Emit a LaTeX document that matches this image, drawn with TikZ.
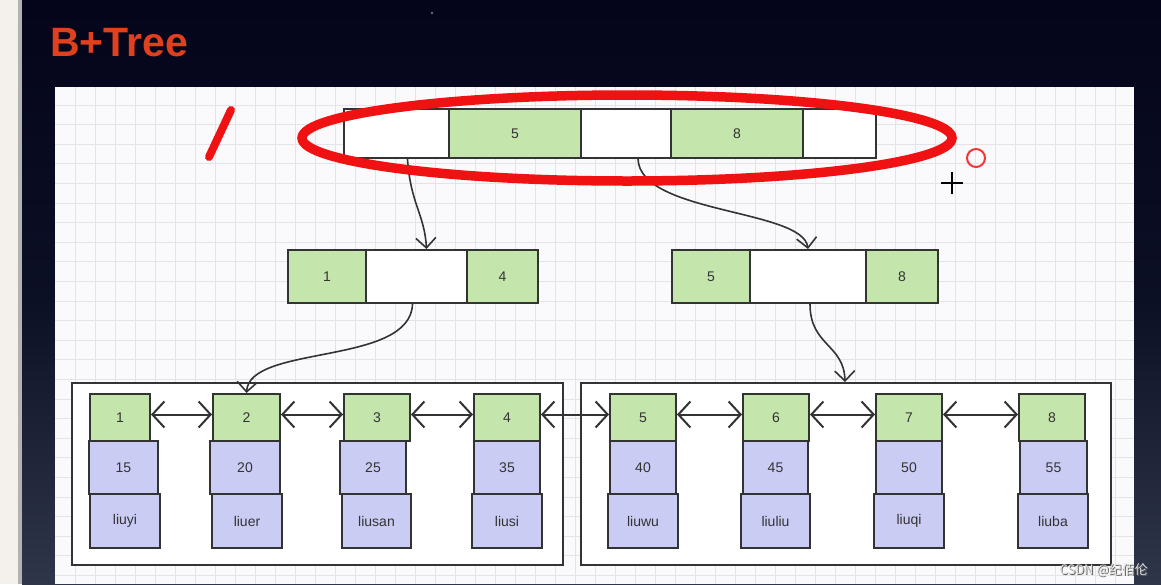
\documentclass[tikz,border=0pt]{standalone}
\usepackage{fontspec}
\setmainfont{Liberation Sans}
\newfontfamily\cjk{Noto Sans CJK SC}
\usetikzlibrary{arrows.meta}
\definecolor{keyg}{HTML}{C4E5AB}
\definecolor{valp}{HTML}{CACCF4}
\definecolor{edgec}{HTML}{333333}
\definecolor{titler}{HTML}{E0401E}
\definecolor{gridc}{HTML}{E4E4E8}
\definecolor{panelc}{HTML}{FAFAFC}
\definecolor{inkred}{HTML}{F01212}
\definecolor{slidetop}{HTML}{04041A}
\definecolor{slidemid}{HTML}{0C1025}
\definecolor{slidebot}{HTML}{30364A}
\definecolor{strip}{HTML}{F4F0EB}
\tikzset{
  cell/.style={draw=edgec, line width=2, inner sep=0pt, text=edgec, font=\fontsize{14}{16}\selectfont},
  gcell/.style={cell, fill=keyg},
  wcell/.style={cell, fill=white},
  pcell/.style={cell, fill=valp},
  leafbox/.style={draw=edgec, line width=2, fill=white, inner sep=0pt},
  tree/.style={draw=edgec, line width=1.6, -{Straight Barb[length=10pt,width=20pt]}},
  link/.style={draw=edgec, line width=2, {Straight Barb[length=12pt,width=26pt]}-{Straight Barb[length=12pt,width=26pt]}},
  ink/.style={draw=inkred, line cap=round},
}
% name, style, x1, x2, y1, y2, text
\newcommand\boxnode[7]{\node[#2, minimum width={#4-#3}, minimum height={#6-#5}] (#1) at ({(#3+#4)/2},{(#5+#6)/2}) {#7};}
% id, kx1, kx2, vx1, vx2, nx1, nx2, val, name
\newcommand\leafentry[9]{%
  \boxnode{v#1}{pcell}{#4}{#5}{441}{494}{#8}
  \boxnode{n#1}{pcell}{#6}{#7}{494}{548}{#9}
  \boxnode{k#1}{gcell}{#2}{#3}{394}{441}{#1}
}
\begin{document}
\begin{tikzpicture}[x=1pt,y=-1pt]
\useasboundingbox (0,0) rectangle (1161,584);
% background
\fill[strip] (0,0) rectangle (22,584);
\shade[top color=slidetop, bottom color=slidemid] (22,0) rectangle (1161,300);
\shade[top color=slidemid, bottom color=slidebot] (22,300) rectangle (1161,584);
\fill[gray!60] (18,0) rectangle (22,584);
\fill[color={rgb,255:red,140;green,140;blue,170}] (432,13) circle (1.1);
% title
\node[anchor=base west, inner sep=0pt, text=titler, font=\fontsize{41}{43}\selectfont\bfseries] (title) at (50,56) {B+Tree};
% panel with grid
\fill[panelc] (55,87) rectangle (1134,584);
\begin{scope}
\clip (55,87) rectangle (1134,584);
\foreach \gx in {75,95,...,1125} \draw[gridc, line width=1] (\gx,87) -- (\gx,584);
\foreach \gy in {105,124.6,...,584} \draw[gridc, line width=1] (55,\gy) -- (1134,\gy);
\end{scope}
% root node
\boxnode{rA}{wcell}{344}{449}{109}{158}{}
\boxnode{r5}{gcell}{449}{581}{109}{158}{5}
\boxnode{rC}{wcell}{581}{671}{109}{158}{}
\boxnode{r8}{gcell}{671}{803}{109}{158}{8}
\boxnode{rE}{wcell}{803}{876}{109}{158}{}
% level 2
\boxnode{lA}{gcell}{288}{366}{250}{303}{1}
\boxnode{lM}{wcell}{366}{467}{250}{303}{}
\boxnode{lB}{gcell}{467}{538}{250}{303}{4}
\boxnode{qA}{gcell}{672}{750}{250}{303}{5}
\boxnode{qM}{wcell}{750}{866}{250}{303}{}
\boxnode{qB}{gcell}{866}{938}{250}{303}{8}
% leaf containers
\boxnode{leafL}{leafbox}{72}{563}{383}{565}{}
\boxnode{leafR}{leafbox}{581}{1111}{383}{565}{}
% leaf entries
\leafentry{1}{90}{150}{89}{158}{90}{160}{15}{liuyi}
\leafentry{2}{213}{280}{210}{280}{212}{282}{20}{liuer}
\leafentry{3}{344}{410}{340}{406}{342}{411}{25}{liusan}
\leafentry{4}{474}{540}{474}{540}{472}{542}{35}{liusi}
\leafentry{5}{610}{676}{610}{676}{608}{678}{40}{liuwu}
\leafentry{6}{743}{809}{743}{808}{741}{810}{45}{liuliu}
\leafentry{7}{876}{942}{876}{942}{874}{944}{50}{liuqi}
\leafentry{8}{1019}{1085}{1020}{1087}{1018}{1088}{55}{liuba}
% leaf links
\draw[link] ([yshift=3]k1.east) -- ([yshift=3]k2.west);
\draw[link] ([yshift=3]k2.east) -- ([yshift=3]k3.west);
\draw[link] ([yshift=3]k3.east) -- ([yshift=3]k4.west);
\draw[link] ([yshift=3]k4.east) -- ([yshift=3]k5.west);
\draw[link] ([yshift=3]k5.east) -- ([yshift=3]k6.west);
\draw[link] ([yshift=3]k6.east) -- ([yshift=3]k7.west);
\draw[link] ([yshift=3]k7.east) -- ([yshift=3]k8.west);
% tree pointers
\draw[tree] ([xshift=11]rA.south) .. controls +(3,45) and +(-2,-35) .. ([xshift=10]lM.north);
\draw[tree] ([xshift=12]rC.south) .. controls +(2,55) and +(-5,-40) .. (qM.north);
\draw[tree] ([xshift=-4]lM.south) .. controls +(-2,62) and +(3,-49) .. (k2.north);
\draw[tree] ([xshift=2]qM.south) .. controls +(0,42) and +(-1,-38) .. ([xshift=-1]leafR.north);
% red annotations
\draw[ink, line width=9.5] (627,138) ellipse [x radius=325, y radius=43];
\draw[ink, line width=8] (209,157) -- (231,110);
\draw[draw=inkred!85!white, line width=2] (976,158) circle (9);
\draw[black, line width=1.2] (941,183) -- (963,183) (952,172) -- (952,194);
% watermark
\node[anchor=base east, inner sep=0pt, text=gray!75!black, font=\cjk\fontsize{13}{14}\selectfont] (wmS) at (1149,575) {CSDN @纪佰伦};
\node[anchor=base east, inner sep=0pt, text=gray!25, font=\cjk\fontsize{13}{14}\selectfont] (wm) at (1148,574) {CSDN @纪佰伦};
\end{tikzpicture}
\end{document}
